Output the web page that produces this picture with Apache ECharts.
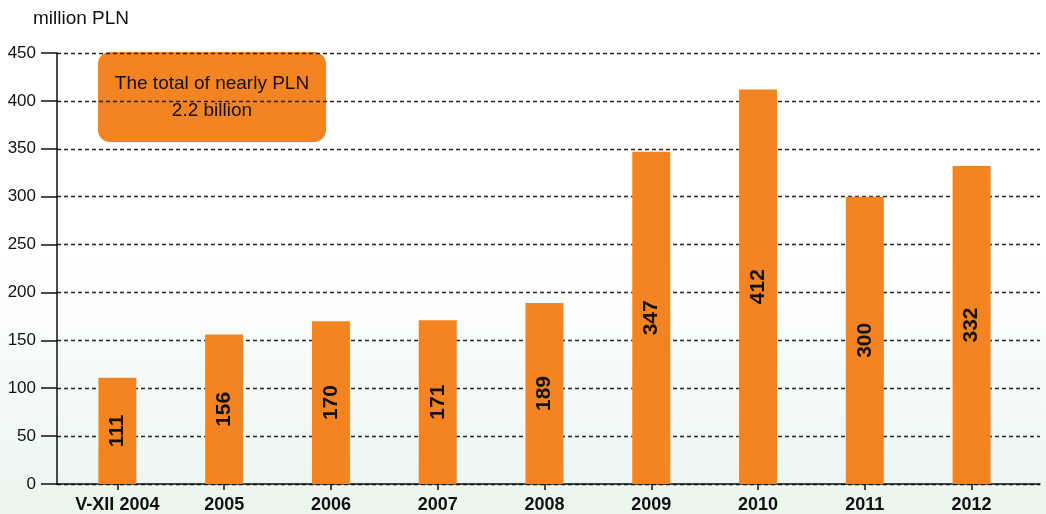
<!DOCTYPE html>
<html>
<head>
<meta charset="utf-8">
<script src="https://cdn.jsdelivr.net/npm/echarts@6/dist/echarts.min.js"></script>
<style>
    html, body { margin: 0; padding: 0; }
    #chart { width: 1046px; height: 514px; }
</style>
</head>
<body>
<div id="chart"></div>
<script>
// 数据
var years = ['V-XII 2004', '2005', '2006', '2007', '2008', '2009', '2010', '2011', '2012'];
var values = [111, 156, 170, 171, 189, 347, 412, 300, 332];
var yTicks = [0, 50, 100, 150, 200, 250, 300, 350, 400, 450];
var unitName = 'million PLN';
var boxText = 'The total of nearly PLN\n2.2 billion';

var chart = echarts.init(document.getElementById('chart'));

var font = '"Liberation Sans", Arial, sans-serif';

var option = {
    animation: false,
    backgroundColor: {
        type: 'linear', x: 0, y: 0, x2: 0, y2: 1,
        colorStops: [
            { offset: 0, color: '#ffffff' },
            { offset: 0.5, color: '#ffffff' },
            { offset: 1, color: '#eaf5ee' }
        ]
    },
    textStyle: { fontFamily: font },
    grid: [
        // 柱子
        { left: 64, right: 21, top: 53, bottom: 30 },
        // 网格线和y轴
        { left: 57, right: 6, top: 53, bottom: 30 }
    ],
    xAxis: [{
        type: 'category',
        gridIndex: 0,
        data: years,
        axisLine: { show: false },
        axisTick: { show: true, alignWithLabel: true, interval: 0, length: 6, lineStyle: { color: '#111', width: 1.5 } },
        axisLabel: { color: '#111', fontSize: 18, fontWeight: 'bold', margin: 12, interval: 0, fontFamily: font }
    }, {
        type: 'value',
        gridIndex: 1,
        min: 0, max: 1,
        axisLine: { show: true, onZero: false, lineStyle: { color: '#111', width: 1.5 } },
        axisTick: { show: false },
        axisLabel: { show: false },
        splitLine: { show: false }
    }],
    yAxis: [{
        type: 'value',
        gridIndex: 0,
        min: 0, max: 450, interval: 50,
        show: false
    }, {
        type: 'value',
        gridIndex: 1,
        min: yTicks[0], max: yTicks[yTicks.length - 1], interval: 50,
        name: unitName,
        nameLocation: 'end',
        nameGap: 25,
        nameTextStyle: { color: '#111', fontSize: 19, align: 'left', padding: [0, 0, 0, -24], fontFamily: font },
        axisLine: { show: true, lineStyle: { color: '#111', width: 1.5 } },
        axisTick: { show: true, inside: false, length: 16, lineStyle: { color: '#111', width: 1.5 } },
        axisLabel: { color: '#111', fontSize: 17, margin: 21, fontFamily: font },
        splitLine: { show: true, lineStyle: { color: '#222', type: [4, 3], width: 1.3 } }
    }],
    series: [{
        type: 'bar',
        xAxisIndex: 0,
        yAxisIndex: 0,
        data: values,
        barWidth: 38,
        itemStyle: { color: '#f48422' },
        label: {
            show: true,
            position: 'inside',
            rotate: 90,
            color: '#111',
            fontSize: 21,
            fontWeight: 'bold',
            fontFamily: font
        },
        z: 3
    }],
    graphic: [{
        type: 'group',
        left: 98,
        top: 52,
        z: 10,
        children: [{
            type: 'rect',
            shape: { x: 0, y: 0, width: 228, height: 90, r: 12 },
            style: { fill: '#f48422' }
        }, {
            type: 'text',
            x: 114,
            y: 45,
            style: {
                text: boxText,
                fill: '#111',
                fontSize: 19,
                fontFamily: font,
                align: 'center',
                verticalAlign: 'middle',
                lineHeight: 27
            }
        }]
    }]
};

chart.setOption(option);
</script>
</body>
</html>
